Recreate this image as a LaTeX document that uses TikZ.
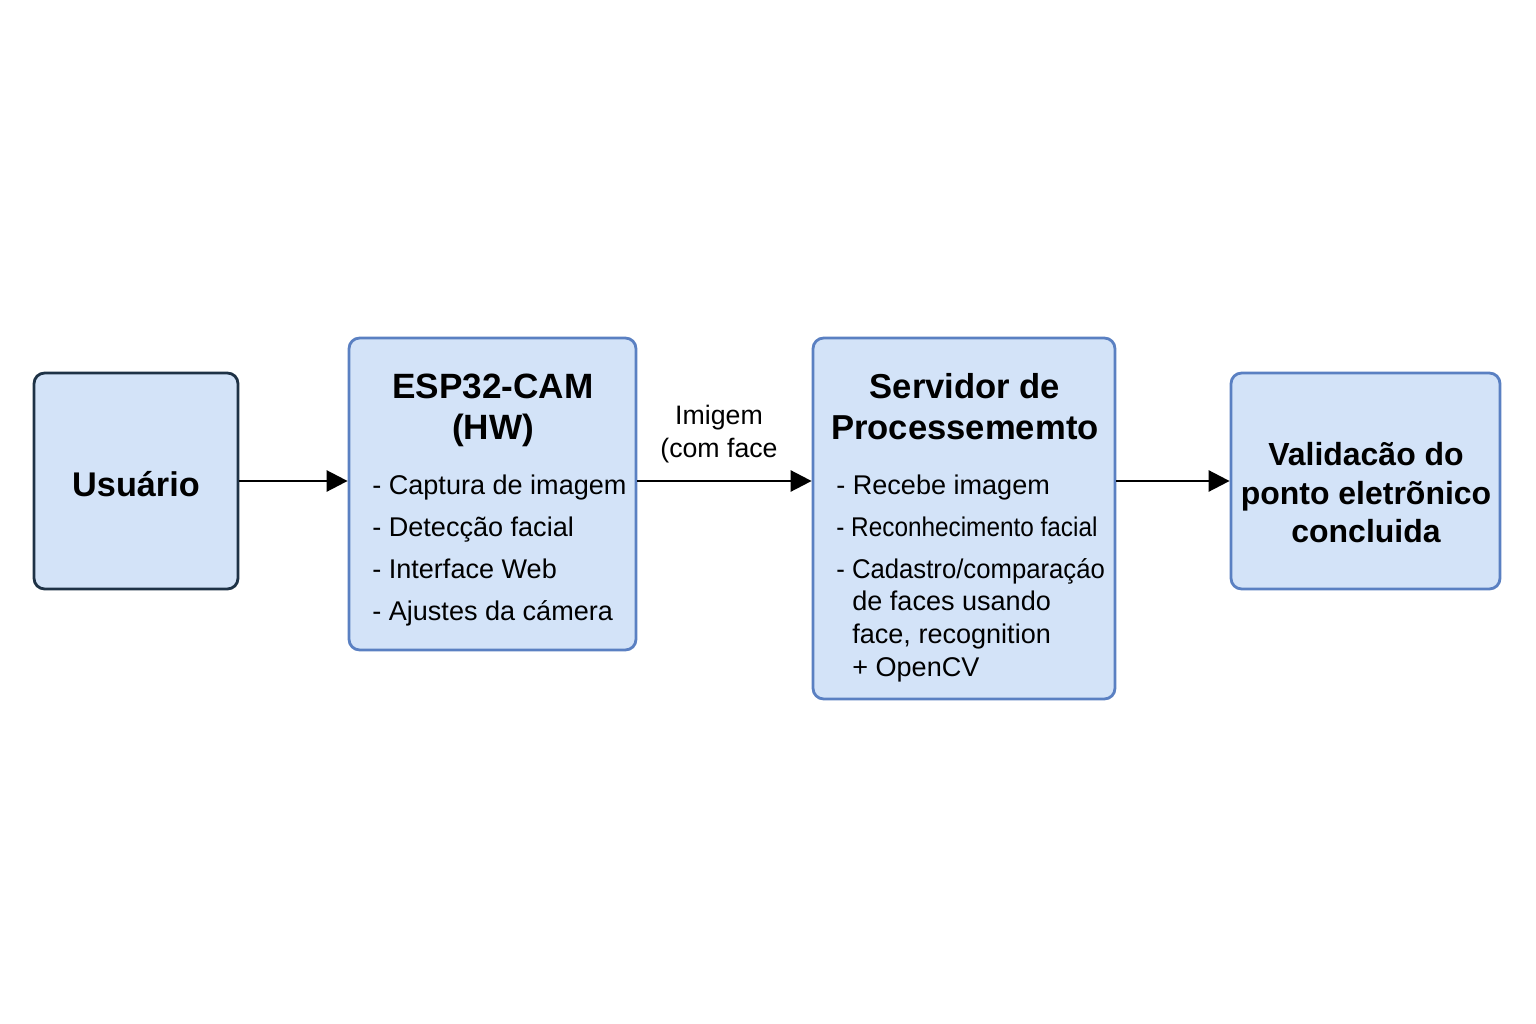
\documentclass[tikz,border=0pt]{standalone}
\usepackage{fontspec}
\setmainfont{Liberation Sans}
\usetikzlibrary{arrows.meta}

\definecolor{boxfill}{HTML}{D3E3F8}
\definecolor{boxline}{HTML}{5A80C2}
\definecolor{userline}{HTML}{1E3246}

\tikzset{
    block/.style={draw=boxline, fill=boxfill, line width=1.6pt, rounded corners=6pt, inner sep=0pt},
    flow/.style={-{Triangle[length=12pt,width=12pt]}, line width=1.5pt, black},
    title/.style={font=\bfseries\fontsize{20}{23.3}\selectfont, align=center},
    item/.style={font=\fontsize{15.4}{17}\selectfont, anchor=base west, inner sep=0pt}
}

\begin{document}
\begin{tikzpicture}[x=0.02cm, y=-0.02cm]

% Page frame
\useasboundingbox (0,0) rectangle (1536,1024);

% Boxes
\node[block, draw=userline, minimum width=4.08cm, minimum height=4.32cm] (usr) at (136,481) {};
\node[block, minimum width=5.74cm, minimum height=6.24cm] (esp) at (492.5,494) {};
\node[block, minimum width=6.04cm, minimum height=7.22cm] (srv) at (964,518.5) {};
\node[block, minimum width=5.38cm, minimum height=4.32cm] (val) at (1365.5,481) {};

% Box texts
\node[font=\bfseries\fontsize{19.5}{23}\selectfont] (usrtext) at (136,484) {Usuário};
\node[title] (esptitle) at (493,410) {ESP32-CAM\\(HW)};
\node[title, font=\bfseries\fontsize{19.7}{23.3}\selectfont] (srvtitle) at (965,407) {Servidor de\\Processememto};
\node[title, font=\bfseries\fontsize{18.2}{21.9}\selectfont] (valtext) at (1366,493)
    {Validacão do\\ponto eletrõnico\\concluida};

% ESP32 items
\foreach \t [count=\i] in {Captura de imagem, Detecção facial, Interface Web, Ajustes da cámera} {
    \pgfmathsetmacro{\yb}{494 + 42.3*(\i-1)}
    \node[item] (espitem\i) at (372,\yb) {- \t};
}

% Servidor items
\node[item] (srvitem1) at (836,494) {- Recebe imagem};
\node[item] (srvitem2) at (836,536) {\scalebox{0.9}[1]{- Reconhecimento facial}};
\node[item] (srvitem3) at (836,578) {\scalebox{0.95}[1]{- Cadastro/comparaçáo}};
\foreach \t [count=\i] in {de faces usando, {face, recognition}, + OpenCV} {
    \pgfmathsetmacro{\yb}{578 + 32.7*\i}
    \node[item] (srvcont\i) at (852,\yb) {\t};
}

% Connectors
\draw[flow] (usr.east) -- (usr.east -| esp.west);
\draw[flow] (usr.east -| esp.east) -- (usr.east -| srv.west);
\draw[flow] (usr.east -| srv.east) -- (val.west);

% Connector label
\node[font=\fontsize{15.2}{18.8}\selectfont, align=center] (imglabel) at (719,434) {Imigem\\(com face};

\end{tikzpicture}
\end{document}
